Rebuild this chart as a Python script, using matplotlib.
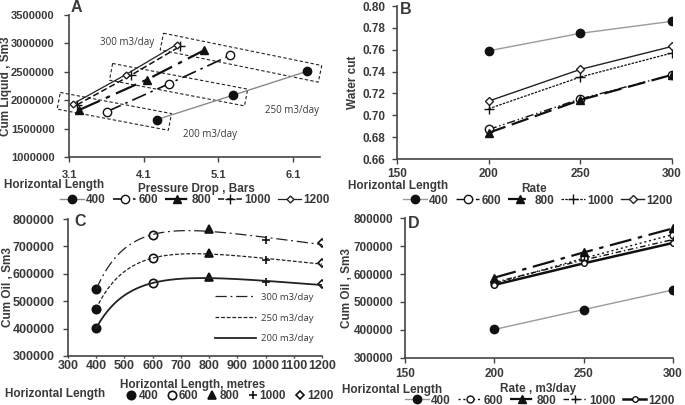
import numpy as np
import matplotlib
matplotlib.use("Agg")
import matplotlib.pyplot as plt
from matplotlib.lines import Line2D
from matplotlib.patches import Polygon
from matplotlib.ticker import FormatStrFormatter

plt.rcParams['font.family'] = ['Liberation Sans', 'DejaVu Sans']
TXT = '#3a3a3a'

# Horizontal length groups
lengths = [400, 600, 800, 1000, 1200]
length_labels = ['400', '600', '800', '1000', '1200']
rates = [200, 250, 300]
rate_labels = ['200 m3/day', '250 m3/day', '300 m3/day']

# A: pressure drop (bars) and cum liquid (Sm3) per length, for rates 200/250/300
dp = {
    400: [4.28, 5.30, 6.29],
    600: [3.61, 4.44, 5.26],
    800: [3.24, 4.14, 4.91],
    1000: [3.21, 3.93, 4.59],
    1200: [3.16, 3.86, 4.54],
}
cum_liq = {
    400: [1660000, 2090000, 2510000],
    600: [1800000, 2290000, 2790000],
    800: [1830000, 2360000, 2880000],
    1000: [1920000, 2440000, 2950000],
    1200: [1940000, 2450000, 2980000],
}

# B: water cut per length, for rates 200/250/300
water_cut = {
    400: [0.759, 0.775, 0.786],
    600: [0.687, 0.715, 0.737],
    800: [0.684, 0.714, 0.737],
    1000: [0.706, 0.735, 0.757],
    1200: [0.713, 0.742, 0.763],
}

# C / D: cum oil per length, for rates 200/250/300
cum_oil = {
    400: [402000, 473000, 543000],
    600: [566000, 656000, 741000],
    800: [587000, 677000, 763000],
    1000: [570000, 650000, 723000],
    1200: [561000, 638000, 711000],
}

# line styles per length
styles_A = {
    400: dict(color='#8a8a8a', ls='-', lw=1.0, marker='o', mfc='#111111', mec='#111111', ms=6),
    600: dict(color='#111111', ls=(0, (9, 3, 1.5, 3)), lw=1.2, marker='o', mfc='white', mec='#111111', ms=6),
    800: dict(color='#111111', ls=(0, (10, 3, 2, 3)), lw=1.6, marker='^', mfc='#111111', mec='#111111', ms=6),
    1000: dict(color='#111111', ls=(0, (4, 2)), lw=1.1, marker='+', mfc='#111111', mec='#111111', ms=7),
    1200: dict(color='#222222', ls='-', lw=0.9, marker='D', mfc='white', mec='#222222', ms=3.5),
}
styles_B = {
    400: dict(color='#9a9a9a', ls='-', lw=1.0, marker='o', mfc='#111111', mec='#111111', ms=6),
    600: dict(color='#111111', ls=(0, (6, 2, 1, 2, 1, 2)), lw=1.0, marker='o', mfc='white', mec='#111111', ms=6),
    800: dict(color='#111111', ls=(0, (8, 3)), lw=1.6, marker='^', mfc='#111111', mec='#111111', ms=6),
    1000: dict(color='#111111', ls=(0, (2, 1)), lw=0.9, marker='+', mfc='#111111', mec='#111111', ms=7),
    1200: dict(color='#222222', ls='-', lw=1.0, marker='D', mfc='white', mec='#222222', ms=4),
}
styles_D = {
    400: dict(color='#9a9a9a', ls='-', lw=1.0, marker='o', mfc='#111111', mec='#111111', ms=6),
    600: dict(color='#111111', ls=(0, (1.5, 2)), lw=1.0, marker='o', mfc='white', mec='#111111', ms=5),
    800: dict(color='#111111', ls=(0, (10, 3, 2, 3)), lw=1.6, marker='^', mfc='#111111', mec='#111111', ms=6),
    1000: dict(color='#111111', ls=(0, (4, 2, 1, 2)), lw=1.0, marker='+', mfc='#111111', mec='#111111', ms=6),
    1200: dict(color='#111111', ls='-', lw=1.8, marker='o', mfc='white', mec='#111111', ms=4),
}
c_markers = {400: ('o', '#111111'), 600: ('o', 'white'), 800: ('^', '#111111'),
             1000: ('+', '#111111'), 1200: ('D', 'white')}
c_curve_ls = {200: '-', 250: (0, (3, 1.5)), 300: (0, (9, 3, 1.5, 3))}

fig = plt.figure(figsize=(6.85, 4.05), dpi=100)
W, H = 685, 405


def add_ax(l, t, r, b):
    return fig.add_axes([l / W, 1 - b / H, (r - l) / W, (b - t) / H])


def style_ax(ax, size, ypad, xpad, xlen=3.5):
    for s in ['top', 'right']:
        ax.spines[s].set_visible(False)
    for s in ['left', 'bottom']:
        ax.spines[s].set_color('#444444')
        ax.spines[s].set_linewidth(1.2)
    ax.tick_params(colors='#444444', labelcolor=TXT, labelsize=size, width=1)
    ax.tick_params(axis='y', length=3.5, pad=ypad)
    ax.tick_params(axis='x', length=xlen, pad=xpad)
    for lab in ax.get_xticklabels() + ax.get_yticklabels():
        lab.set_fontweight('bold')


def set_ylabel(ax, text, px, left, width):
    ax.set_ylabel(text, fontsize=8.5, fontweight='bold', color=TXT, va='center')
    ax.yaxis.set_label_coords((px - left) / width, 0.5)


def ftext(x, y, s, **kw):
    kw.setdefault('fontsize', 8.5)
    kw.setdefault('fontweight', 'bold')
    kw.setdefault('color', TXT)
    fig.text(x / W, 1 - y / H, s, **kw)


def row_legend(handles, xc, y, **kw):
    fig.legend(handles=handles, labels=length_labels, loc='center', ncol=5,
               bbox_to_anchor=(xc / W, 1 - y / H), frameon=False,
               prop={'weight': 'bold', 'size': 8.5}, labelcolor=TXT,
               borderaxespad=0, borderpad=0, **kw)


def panel_letter(x, y, s):
    ftext(x, y, s, fontsize=11.5, va='center')


# ---------- A ----------
axA = add_ax(69, 15, 320, 157)
hA = []
for L in lengths:
    h, = axA.plot(dp[L], cum_liq[L], **styles_A[L])
    hA.append(h)
axA.set_xlim(3.1, 6.46)
axA.set_ylim(1000000, 3500000)
axA.set_xticks([3.1, 4.1, 5.1, 6.1])
axA.set_yticks(np.arange(1000000, 3500001, 500000))
axA.yaxis.set_major_formatter(FormatStrFormatter('%d'))
style_ax(axA, 8, ypad=7, xpad=6)
set_ylabel(axA, 'Cum Liquid , Sm3', 6, 69, 251)
panel_letter(71, 7, 'A')

# dashed boxes around the points of each rate
fig.canvas.draw()
for j in range(len(rates)):
    pts = np.array([axA.transData.transform((dp[L][j], cum_liq[L][j])) for L in lengths])
    p0 = pts[np.argmin(pts[:, 0])]
    p1 = pts[np.argmax(pts[:, 0])]
    u = (p1 - p0) / np.linalg.norm(p1 - p0)
    n = np.array([-u[1], u[0]])
    a, b = p0 - 15 * u, p1 + 13 * u
    hw = 8.5
    corners = np.array([a + hw * n, b + hw * n, b - hw * n, a - hw * n])
    corners = axA.transData.inverted().transform(corners)
    axA.add_patch(Polygon(corners, closed=True, fill=False, ls=(0, (3, 2)),
                          lw=0.8, ec='#222222', clip_on=False))

ftext(100, 42, '300 m3/day', fontsize=7, fontweight='normal', family='Open Sans', va='center')
ftext(265, 111, '250 m3/day', fontsize=7, fontweight='normal', family='Open Sans', va='center')
ftext(183, 134, '200 m3/day', fontsize=7, fontweight='normal', family='Open Sans', va='center')

ftext(4, 185, 'Horizontal Length', va='center')
ftext(196, 189, 'Pressure Drop , Bars', ha='center', va='center')
row_legend(hA, 195, 200, handlelength=2.0, columnspacing=0.6, handletextpad=0.2)

# ---------- B ----------
axB = add_ax(397, 6, 672, 159)
hB = []
for L in lengths:
    h, = axB.plot(rates, water_cut[L], **styles_B[L])
    hB.append(h)
axB.set_xlim(150, 300)
axB.set_ylim(0.66, 0.80)
axB.set_xticks([150, 200, 250, 300])
axB.set_yticks(np.arange(0.66, 0.801, 0.02))
axB.yaxis.set_major_formatter(FormatStrFormatter('%.2f'))
style_ax(axB, 8.5, ypad=5, xpad=3)
set_ylabel(axB, 'Water cut', 353, 397, 275)
panel_letter(400, 9, 'B')
ftext(348, 186, 'Horizontal Length', va='center')
ftext(534, 189, 'Rate', ha='center', va='center')
row_legend(hB, 538, 200.5, handlelength=2.0, columnspacing=0.6, handletextpad=0.2)

# ---------- C ----------
axC = add_ax(68, 219, 322, 356)
hC = []
for L in lengths:
    m, fc = c_markers[L]
    for j in range(len(rates)):
        axC.plot(L, cum_oil[L][j], ls='none', marker=m, mfc=fc, mec='#111111',
                 color='#111111', ms=6 if m != 'D' else 4, mew=1.2)
    hC.append(Line2D([], [], ls='none', marker=m, mfc=fc, mec='#111111', color='#111111',
                     ms=6 if m != 'D' else 4, mew=1.2))
# trend curves (fitted in 1/length)
xs = np.linspace(400, 1200, 200)
inv_len = 1.0 / np.array(lengths)
curve_handles = []
for j, r in enumerate(rates):
    yv = [cum_oil[L][j] for L in lengths]
    coef = np.polyfit(inv_len, yv, 2)
    h, = axC.plot(xs, np.polyval(coef, 1.0 / xs), color='#222222', ls=c_curve_ls[r],
                  lw=1.3 if r == 200 else 0.9)
    curve_handles.append(h)
axC.set_xlim(300, 1200)
axC.set_ylim(300000, 800000)
axC.set_xticks(np.arange(300, 1201, 100))
axC.set_yticks(np.arange(300000, 800001, 100000))
style_ax(axC, 9, ypad=6, xpad=1.5, xlen=1.5)
set_ylabel(axC, 'Cum Oil , Sm3', 8, 68, 254)
panel_letter(74, 222, 'C')
axC.legend(handles=curve_handles[::-1], labels=rate_labels[::-1], loc='lower right',
           bbox_to_anchor=(1.0, 0.03), frameon=False, handlelength=4.4, labelspacing=1.25,
           handletextpad=0.5, prop={'family': 'Open Sans', 'size': 6.8}, labelcolor=TXT)
ftext(5, 394, 'Horizontal Length', va='center')
ftext(193, 385, 'Horizontal Length, metres', ha='center', va='center')
row_legend(hC, 230, 396, handlelength=0.8, columnspacing=0.75, handletextpad=0.2)

# ---------- D ----------
axD = add_ax(405, 218, 673, 358)
hD = []
for L in lengths:
    h, = axD.plot(rates, cum_oil[L], **styles_D[L])
    hD.append(h)
axD.set_xlim(150, 300)
axD.set_ylim(300000, 800000)
axD.set_xticks([150, 200, 250, 300])
axD.set_yticks(np.arange(300000, 800001, 100000))
style_ax(axD, 8.5, ypad=5, xpad=4)
set_ylabel(axD, 'Cum Oil , Sm3', 347, 405, 268)
panel_letter(408, 223, 'D')
ftext(342, 390, 'Horizontal Length', va='center')
ftext(538, 389, 'Rate , m3/day', ha='center', va='center')
row_legend(hD, 540, 400.5, handlelength=2.0, columnspacing=0.6, handletextpad=0.2)

fig.savefig('out.png', dpi=100)
